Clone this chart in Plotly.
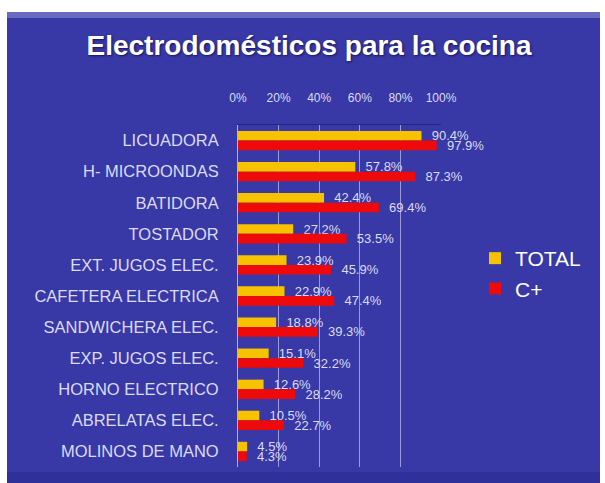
import plotly.graph_objects as go

categories = ["LICUADORA", "H- MICROONDAS", "BATIDORA", "TOSTADOR", "EXT. JUGOS ELEC.",
              "CAFETERA ELECTRICA", "SANDWICHERA ELEC.", "EXP. JUGOS ELEC.", "HORNO ELECTRICO",
              "ABRELATAS ELEC.", "MOLINOS DE MANO"]
total = [0.904, 0.578, 0.424, 0.272, 0.239, 0.229, 0.188, 0.151, 0.126, 0.105, 0.045]
cplus = [0.979, 0.873, 0.694, 0.535, 0.459, 0.474, 0.393, 0.322, 0.282, 0.227, 0.043]
tick_vals = [0, 0.2, 0.4, 0.6, 0.8, 1.0]
tick_text = ["0%", "20%", "40%", "60%", "80%", "100%"]

W, H = 605, 483
L, R, T, B = 238, 164, 125, 16
pw, ph = W - L - R, H - T - B
BG = "#3838a6"
TXT = "#dcdcf4"
FONT = "Liberation Sans, Arial"

def px(xp):
    return (xp - L) / pw

def py(yp):
    return (H - B - yp) / ph

fig = go.Figure()
fig.add_trace(go.Bar(y=categories, x=total, orientation="h", name="TOTAL",
                     marker=dict(color="#f7c200", line=dict(width=0)),
                     texttemplate="\u00a0\u00a0%{x:.1%}", textposition="outside",
                     constraintext="none",
                     textfont=dict(color=TXT, size=13, family=FONT),
                     cliponaxis=False, legendgroup="a"))
fig.add_trace(go.Bar(y=categories, x=cplus, orientation="h", name="C+",
                     marker=dict(color="#ee0a0a", line=dict(width=0)),
                     texttemplate="\u00a0\u00a0%{x:.1%}", textposition="outside",
                     constraintext="none",
                     textfont=dict(color=TXT, size=13, family=FONT),
                     cliponaxis=False, legendgroup="b"))

shapes = [
    dict(type="rect", xref="paper", yref="paper", x0=px(7), x1=px(600), y0=py(490), y1=py(12),
         fillcolor=BG, line=dict(width=0), layer="below"),
    dict(type="rect", xref="paper", yref="paper", x0=px(7), x1=px(600), y0=py(18), y1=py(12),
         fillcolor="#6a6ac0", line=dict(width=0), layer="below"),
    dict(type="rect", xref="paper", yref="paper", x0=px(7), x1=px(600), y0=py(490), y1=py(472),
         fillcolor="#30309a", line=dict(width=0), layer="below"),
]

fig.update_layout(
    width=W, height=H,
    margin=dict(l=L, r=R, t=T, b=B),
    paper_bgcolor="white", plot_bgcolor=BG,
    barmode="group", bargap=0.38, bargroupgap=0,
    shapes=shapes,
    title=dict(text="Electrodomésticos para la cocina", x=309 / W, xanchor="center",
               y=1 - 45 / H, yanchor="middle", yref="container",
               font=dict(family=FONT, size=28, color="white",
                         weight="bold", shadow="1px 1px 2px #151560")),
    xaxis=dict(side="top", range=[0, 1.0], tickvals=tick_vals, ticktext=tick_text,
               showgrid=True, gridcolor="#9a9ad8", gridwidth=1, zeroline=False,
               tickfont=dict(color=TXT, size=12, family=FONT),
               ticks="outside", ticklen=17, tickcolor="rgba(0,0,0,0)", fixedrange=True,
               showline=True, linecolor="#26267a", linewidth=1),
    yaxis=dict(autorange="reversed", showgrid=False, zeroline=False,
               tickfont=dict(color=TXT, size=16.5, family=FONT),
               ticks="outside", ticklen=15, tickcolor="rgba(0,0,0,0)",
               showline=True, linecolor="#b0b0e8", linewidth=1),
    legend=dict(x=px(475), y=py(238), xanchor="left", yanchor="top",
                font=dict(color="white", size=21, family=FONT),
                bgcolor="rgba(0,0,0,0)", traceorder="normal", tracegroupgap=22,
                itemwidth=30),
    showlegend=True,
)

fig.write_html("out.html")
